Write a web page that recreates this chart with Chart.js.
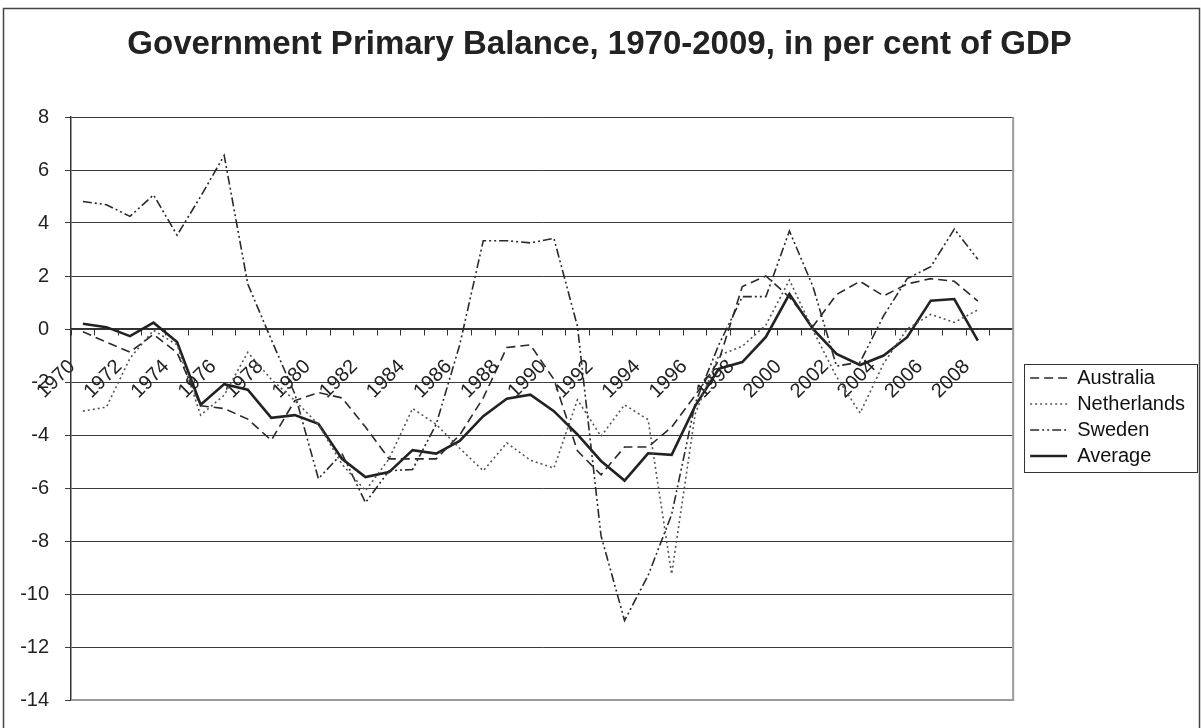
<!DOCTYPE html>
<html>
<head>
<meta charset="utf-8">
<title>Government Primary Balance, 1970-2009</title>
<script src="https://cdn.jsdelivr.net/npm/chart.js@4.4.1/dist/chart.umd.min.js"></script>
<style>
  html, body { margin: 0; padding: 0; background: #fff; }
  #wrap { width: 1201px; height: 728px; }
</style>
</head>
<body>
<div id="wrap"><canvas id="chart" width="1201" height="728"></canvas></div>
<script>
/* categories: the 2009 slot is on the axis but carries no values */
const years = ["1970", "1971", "1972", "1973", "1974", "1975", "1976", "1977", "1978", "1979",
               "1980", "1981", "1982", "1983", "1984", "1985", "1986", "1987", "1988", "1989",
               "1990", "1991", "1992", "1993", "1994", "1995", "1996", "1997", "1998", "1999",
               "2000", "2001", "2002", "2003", "2004", "2005", "2006", "2007", "2008", "2009"];

/* primary balance, per cent of GDP, 1970-2008 */
const australia = [-0.1, -0.5, -0.87, -0.2, -0.9, -2.9, -3.0, -3.4, -4.2, -2.7,
                   -2.4, -2.6, -3.7, -4.9, -4.9, -4.9, -4.0, -2.6, -0.7, -0.6,
                   -1.9, -4.6, -5.5, -4.45, -4.45, -3.7, -2.5, -1.2, 1.6, 2.0,
                   1.2, 0.1, 1.3, 1.8, 1.25, 1.7, 1.9, 1.8, 1.05];
const netherlands = [-3.1, -2.95, -1.1, -0.05, -0.6, -3.25, -2.5, -0.88, -1.9, -2.7,
                     -3.6, -5.1, -6.1, -4.9, -3.0, -3.6, -4.5, -5.35, -4.3, -4.95,
                     -5.25, -2.67, -4.05, -2.86, -3.42, -9.25, -3.2, -1.0, -0.65, 0.15,
                     1.85, -0.05, -1.8, -3.17, -1.3, 0.0, 0.55, 0.25, 0.72];
const sweden = [4.81, 4.69, 4.25, 5.06, 3.54, 5.0, 6.55, 1.7, -0.4, -2.45,
                -5.65, -4.7, -6.55, -5.35, -5.3, -3.6, -0.6, 3.33, 3.33, 3.25,
                3.42, 0.1, -7.8, -11.0, -9.3, -7.0, -2.8, -0.6, 1.22, 1.22,
                3.7, 1.6, -1.4, -1.25, 0.5, 1.9, 2.35, 3.77, 2.63];
const average = [0.2, 0.07, -0.27, 0.24, -0.49, -2.86, -2.08, -2.29, -3.35, -3.25,
                 -3.58, -4.9, -5.59, -5.4, -4.57, -4.7, -4.22, -3.29, -2.63, -2.48,
                 -3.1, -3.98, -4.98, -5.72, -4.69, -4.75, -2.9, -1.5, -1.25, -0.3,
                 1.32, 0.0, -0.94, -1.36, -1.0, -0.31, 1.07, 1.13, -0.44];

const titleText = "Government Primary Balance, 1970-2009, in per cent of GDP";
const FONT = "'Liberation Sans', Arial, sans-serif";

/* frame round the whole chart, right/bottom edge of the plot and a box round the legend */
const frame = {
    id: "frame",
    beforeDraw(chart) {
        const ctx = chart.ctx;
        ctx.save();
        ctx.fillStyle = "#ffffff";
        ctx.fillRect(0, 0, chart.width, chart.height);
        ctx.restore();
    },
    afterDraw(chart) {
        const ctx = chart.ctx, a = chart.chartArea;
        ctx.save();
        ctx.strokeStyle = "#9a9a9a";
        ctx.lineWidth = 2;
        ctx.beginPath();
        ctx.moveTo(a.right, a.top);
        ctx.lineTo(a.right, a.bottom);
        ctx.lineTo(a.left, a.bottom);
        ctx.stroke();

        const hits = chart.legend.legendHitBoxes;
        if (hits && hits.length) {
            const first = hits[0], last = hits[hits.length - 1];
            const l = Math.round(first.left - 6) + 0.5;
            const t = Math.round(first.top - 4) + 0.5;
            const b = Math.round(last.top + last.height + 6) + 0.5;
            ctx.strokeStyle = "#333";
            ctx.lineWidth = 1;
            ctx.strokeRect(l, t, chart.width - 3.5 - l, b - t);
        }

        ctx.strokeStyle = "#444";
        ctx.lineWidth = 1.5;
        ctx.strokeRect(3.5, 8.5, chart.width - 5, chart.height + 10);
        ctx.restore();
    }
};

/* legend entries keep each series' own dash pattern */
function legendItems(chart) {
    return chart.data.datasets.map((ds, i) => ({
        text: ds.label,
        fillStyle: "rgba(0,0,0,0)",
        strokeStyle: ds.borderColor,
        lineWidth: ds.borderWidth,
        lineDash: ds.borderDash || [],
        pointStyle: "line",
        fontColor: "#111",
        hidden: false,
        datasetIndex: i
    }));
}

new Chart(document.getElementById("chart"), {
    type: "line",
    data: {
        labels: years,
        datasets: [
            { label: "Australia", data: australia, borderColor: "#2a2a2a", borderWidth: 1.6, borderDash: [9, 5] },
            { label: "Netherlands", data: netherlands, borderColor: "#555", borderWidth: 1.6, borderDash: [2, 3] },
            { label: "Sweden", data: sweden, borderColor: "#2a2a2a", borderWidth: 1.6, borderDash: [9, 3, 2, 3, 2, 3] },
            { label: "Average", data: average, borderColor: "#222", borderWidth: 2.6 }
        ]
    },
    options: {
        responsive: false,
        animation: false,
        devicePixelRatio: 1,
        elements: { point: { radius: 0 }, line: { tension: 0, fill: false } },
        layout: { padding: { left: 4.2, right: 6, top: 0, bottom: 25 } },
        plugins: {
            title: {
                display: true,
                text: titleText,
                color: "#222",
                font: { family: FONT, size: 33, weight: "bold" },
                padding: { top: 25.5, bottom: 51.9 }
            },
            legend: {
                position: "right",
                align: "center",
                title: { display: true, text: "", padding: { top: 116.6, bottom: 0 } },
                labels: {
                    color: "#111",
                    font: { family: FONT, size: 20 },
                    usePointStyle: true,
                    pointStyleWidth: 37,
                    boxHeight: 20,
                    padding: 6,
                    generateLabels: legendItems
                }
            },
            tooltip: { enabled: false }
        },
        scales: {
            x: {
                position: { y: 0 },
                offset: true,
                grid: { display: true, drawOnChartArea: false, drawTicks: true, tickLength: 6, color: "#333", offset: true },
                border: { display: true, color: "#333", width: 1.5 },
                ticks: {
                    autoSkip: false,
                    maxRotation: 45,
                    minRotation: 45,
                    color: "#222",
                    padding: 20,
                    labelOffset: -11,
                    font: { family: FONT, size: 20 },
                    callback: (v, i) => (i % 2 === 0 ? years[i] : "")
                }
            },
            y: {
                min: -14,
                max: 8,
                ticks: { stepSize: 2, color: "#222", padding: 16, font: { family: FONT, size: 20 } },
                grid: { color: "#3a3a3a", lineWidth: 1, tickLength: 6 },
                border: { display: true, color: "#333", width: 1.5 }
            },
            /* empty axis that only keeps a small gap between plot and legend */
            gap: {
                type: "linear",
                position: "right",
                min: 0,
                max: 1,
                ticks: { display: false },
                grid: { display: false },
                border: { display: false },
                afterFit(scale) {
                    scale.width = 11;
                }
            }
        }
    },
    plugins: [frame]
});
</script>
</body>
</html>
